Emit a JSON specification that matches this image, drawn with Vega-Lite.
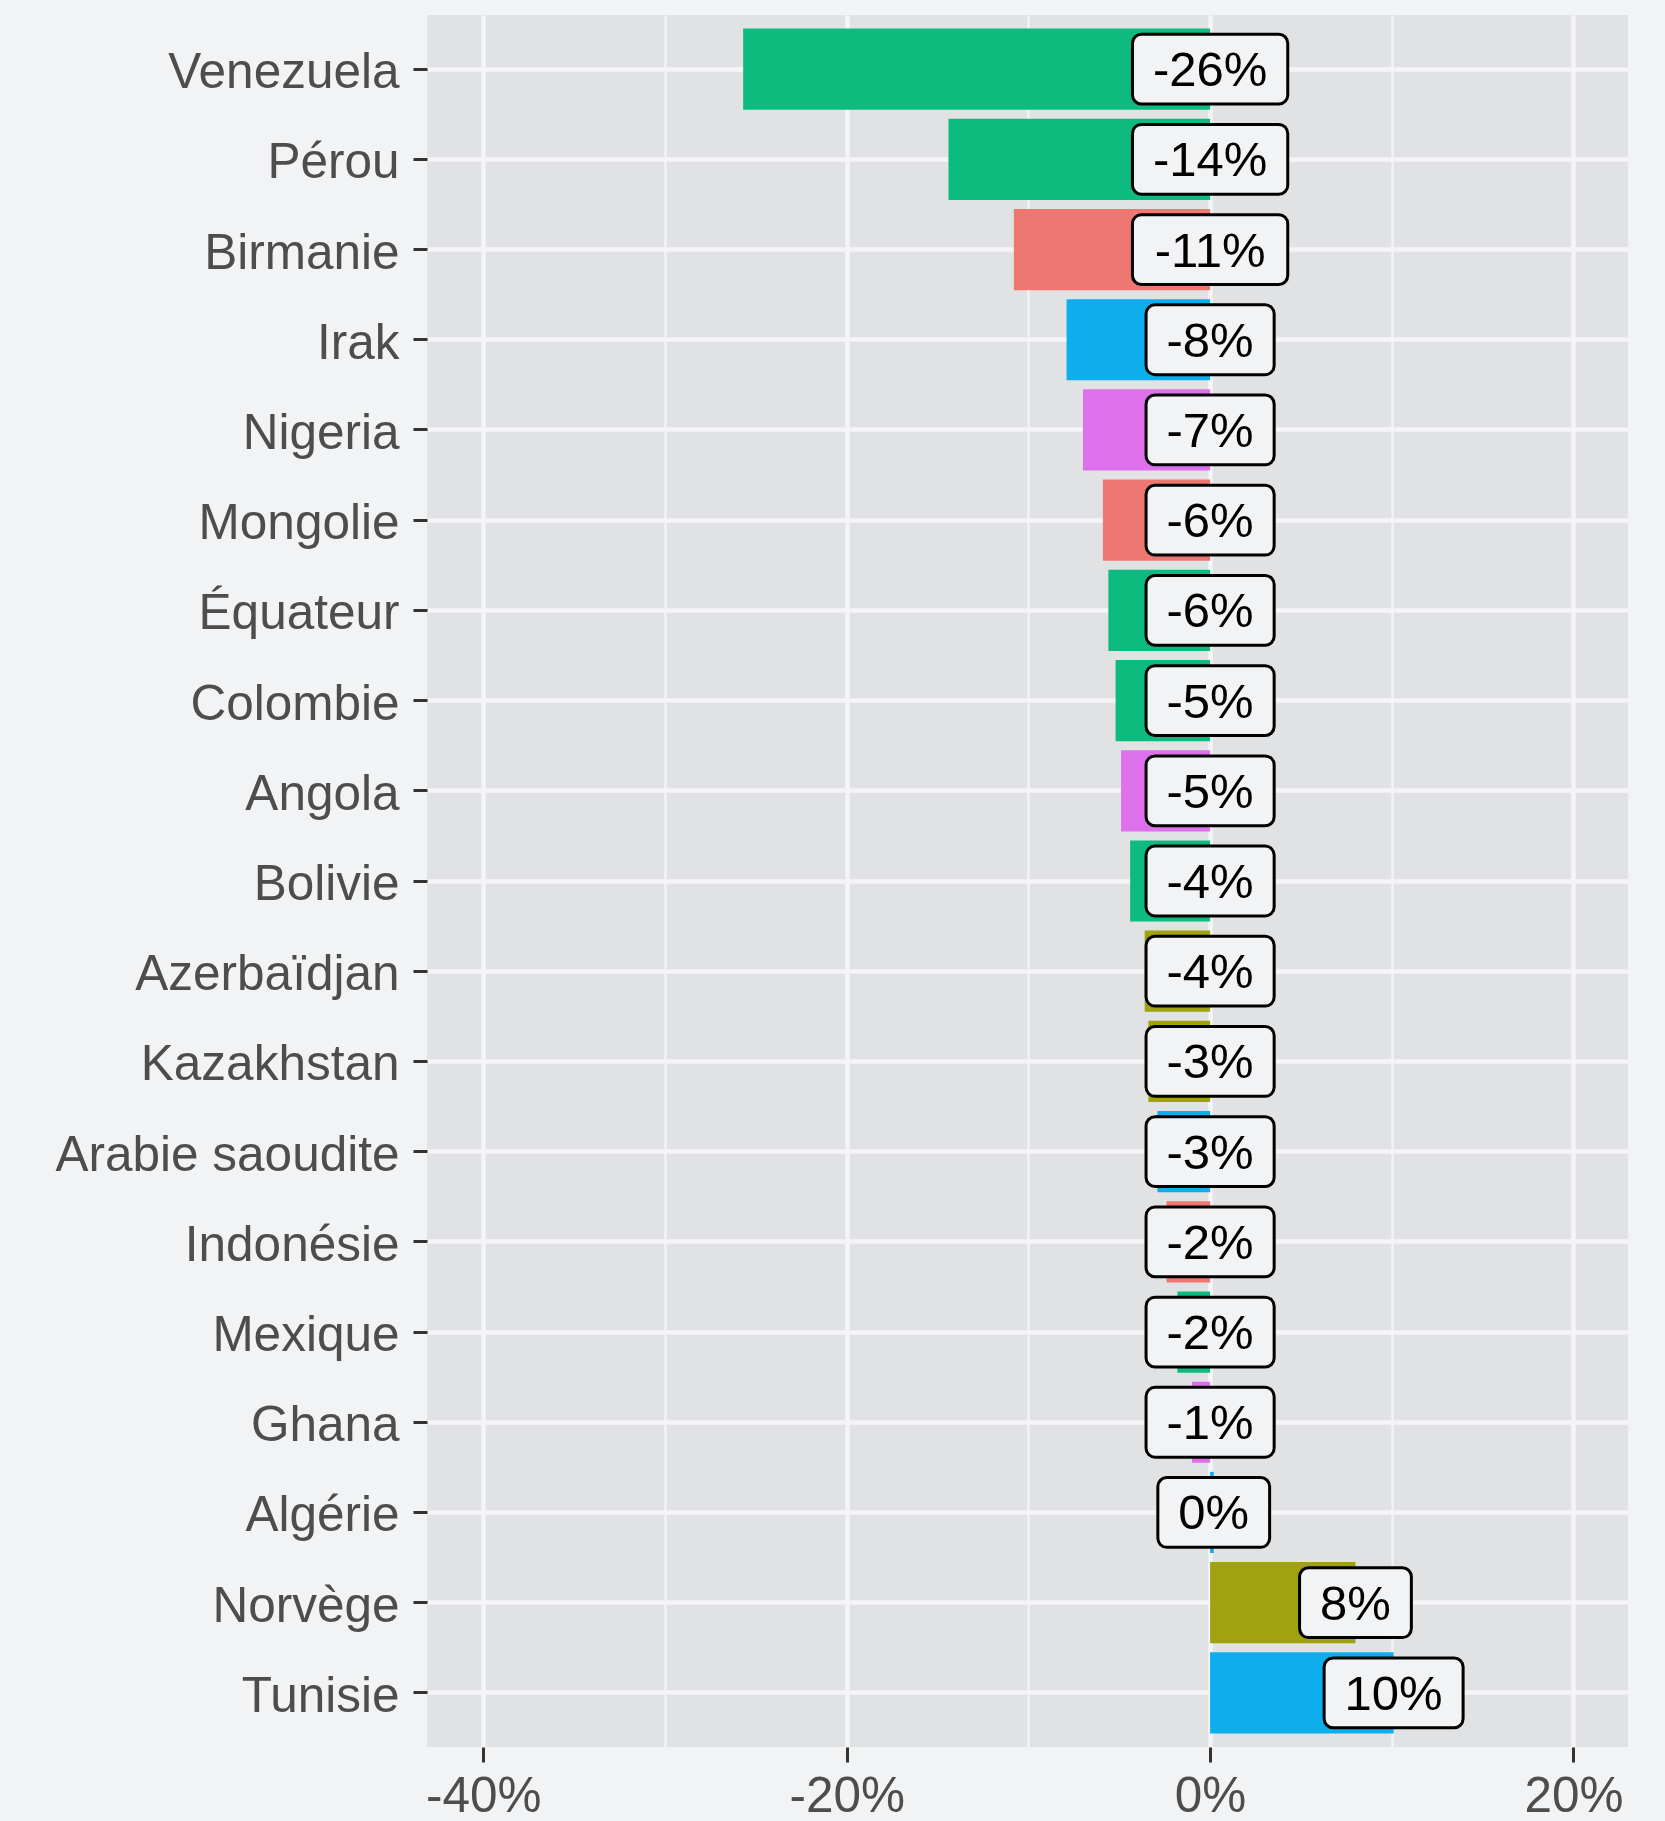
{
  "$schema": "https://vega.github.io/schema/vega-lite/v6.json",
  "autosize": "none",
  "width": 1201,
  "height": 1732,
  "padding": {"left": 427, "top": 15, "right": 37, "bottom": 74},
  "background": "#F2F3F5",
  "config": {
    "view": {"fill": "#E1E2E4", "stroke": null},
    "font": "Liberation Sans"
  },
  "data": {
    "values": [
      {"pays": "Venezuela", "valeur": -25.7, "label": "-26%", "groupe": "Amérique"},
      {"pays": "Pérou", "valeur": -14.4, "label": "-14%", "groupe": "Amérique"},
      {"pays": "Birmanie", "valeur": -10.8, "label": "-11%", "groupe": "Asie"},
      {"pays": "Irak", "valeur": -7.9, "label": "-8%", "groupe": "Moyen-Orient"},
      {"pays": "Nigeria", "valeur": -7.0, "label": "-7%", "groupe": "Afrique"},
      {"pays": "Mongolie", "valeur": -5.9, "label": "-6%", "groupe": "Asie"},
      {"pays": "Équateur", "valeur": -5.6, "label": "-6%", "groupe": "Amérique"},
      {"pays": "Colombie", "valeur": -5.2, "label": "-5%", "groupe": "Amérique"},
      {"pays": "Angola", "valeur": -4.9, "label": "-5%", "groupe": "Afrique"},
      {"pays": "Bolivie", "valeur": -4.4, "label": "-4%", "groupe": "Amérique"},
      {"pays": "Azerbaïdjan", "valeur": -3.6, "label": "-4%", "groupe": "Europe"},
      {"pays": "Kazakhstan", "valeur": -3.4, "label": "-3%", "groupe": "Europe"},
      {"pays": "Arabie saoudite", "valeur": -2.9, "label": "-3%", "groupe": "Moyen-Orient"},
      {"pays": "Indonésie", "valeur": -2.4, "label": "-2%", "groupe": "Asie"},
      {"pays": "Mexique", "valeur": -1.8, "label": "-2%", "groupe": "Amérique"},
      {"pays": "Ghana", "valeur": -1.0, "label": "-1%", "groupe": "Afrique"},
      {"pays": "Algérie", "valeur": 0.2, "label": "0%", "groupe": "Moyen-Orient"},
      {"pays": "Norvège", "valeur": 8.0, "label": "8%", "groupe": "Europe"},
      {"pays": "Tunisie", "valeur": 10.1, "label": "10%", "groupe": "Moyen-Orient"}
    ]
  },
  "transform": [
    {"calculate": "max(datum.valeur, 0)", "as": "labelpos"},
    {"calculate": "(27.2 * (length(datum.label) - 1) - (indexof(datum.label, '-') === 0 ? 10.9 : 0) + 84.6) / 2 / 18.17", "as": "half"},
    {"calculate": "datum.labelpos - datum.half", "as": "boxL"},
    {"calculate": "datum.labelpos + datum.half", "as": "boxR"}
  ],
  "encoding": {
    "y": {
      "field": "pays",
      "type": "nominal",
      "sort": null,
      "title": null,
      "scale": {"paddingInner": 0.1, "paddingOuter": 0.15},
      "axis": {
        "bandPosition": 0.5,
        "domain": false,
        "grid": true,
        "gridColor": "#F4F5F7",
        "gridWidth": 4.5,
        "ticks": true,
        "tickSize": 14,
        "tickWidth": 3,
        "tickColor": "#333333",
        "labelFontSize": 49.5,
        "labelColor": "#4D4D4D",
        "labelPadding": 14,
        "labelOffset": 4,
        "labelLimit": 1000,
        "labelFont": "Liberation Sans"
      }
    }
  },
  "layer": [
    {
      "mark": {"type": "bar", "height": {"band": 1}},
      "encoding": {
        "x": {
          "field": "valeur",
          "type": "quantitative",
          "title": null,
          "scale": {"domain": [-43.1, 23.0], "nice": false, "zero": false},
          "axis": {
            "values": [-40, -30, -20, -10, 0, 10, 20],
            "labelExpr": "datum.value % 20 === 0 ? datum.value + '%' : ''",
            "domain": false,
            "grid": true,
            "gridColor": "#F4F5F7",
            "gridWidth": {"condition": {"test": "datum.value % 20 !== 0", "value": 2.2}, "value": 4.5},
            "tickSize": 15,
            "tickWidth": 3,
            "tickColor": "#333333",
            "tickOpacity": {"condition": {"test": "datum.value % 20 !== 0", "value": 0}, "value": 1},
            "labelFontSize": 49.5,
            "labelColor": "#4D4D4D",
            "labelPadding": 10,
            "labelFont": "Liberation Sans"
          }
        },
        "x2": {"datum": 0},
        "color": {
          "field": "groupe",
          "type": "nominal",
          "legend": null,
          "scale": {
            "domain": ["Asie", "Europe", "Amérique", "Moyen-Orient", "Afrique"],
            "range": ["#EF7771", "#A0A30F", "#0DBB7E", "#0DAEEB", "#DE70EC"]
          }
        }
      }
    },
    {
      "mark": {
        "type": "bar",
        "height": {"band": 0.86},
        "cornerRadius": 9,
        "fill": "#F2F3F5",
        "stroke": "#000000",
        "strokeWidth": 3
      },
      "encoding": {
        "x": {"field": "boxL", "type": "quantitative"},
        "x2": {"field": "boxR"}
      }
    },
    {
      "mark": {
        "type": "text",
        "fontSize": 49,
        "font": "Liberation Sans",
        "color": "#000000",
        "align": "center",
        "baseline": "middle",
        "dy": 2
      },
      "encoding": {
        "x": {"field": "labelpos", "type": "quantitative"},
        "text": {"field": "label"}
      }
    }
  ]
}
